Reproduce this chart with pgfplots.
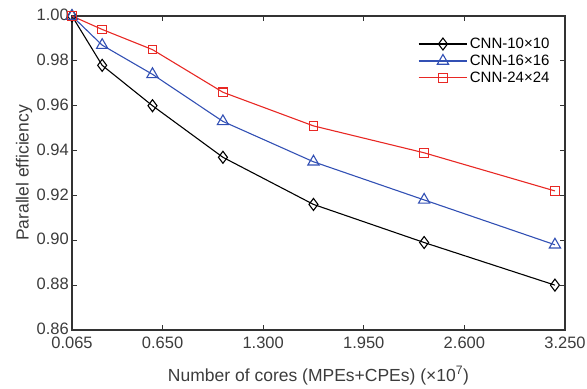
\documentclass[border=0pt]{standalone}
\usepackage{pgfplots}
\pgfplotsset{compat=1.18}
\usepackage{fontspec}
\setmainfont{Liberation Sans}
\definecolor{cblue}{RGB}{50,80,180}
\definecolor{cred}{RGB}{232,40,36}
\definecolor{txt}{RGB}{60,60,60}
\begin{document}
\begin{tikzpicture}
\begin{axis}[
  scale only axis, width=493bp, height=314bp,
  xmin=0.065, xmax=3.25, ymin=0.86, ymax=1.0,
  xtick={0.065,0.65,1.3,1.95,2.6,3.25},
  xticklabels={0.065,0.650,1.300,1.950,2.600,3.250},
  ytick={0.86,0.88,0.90,0.92,0.94,0.96,0.98,1.00},
  yticklabel style={/pgf/number format/fixed,/pgf/number format/fixed zerofill,/pgf/number format/precision=2, inner sep=1bp, xshift=-2bp, yshift=1bp},
  /pgf/number format/assume math mode=true,
  tick label style={font=\fontsize{16.5bp}{19bp}\selectfont, text=txt},
  xticklabel style={yshift=-6bp, inner sep=1bp},
  label style={font=\fontsize{17.5bp}{20bp}\selectfont, text=txt},
  axis line style={draw=black!80, line width=1.1pt},
  major tick style={draw=black!80, line width=0.9pt},
  major tick length=5bp,
  xlabel={Number of cores (MPEs+CPEs) (×10\textsuperscript{7})},
  ylabel={Parallel efficiency},
  xlabel style={yshift=-13bp},
  ylabel style={yshift=0bp},
  clip=false,
  legend style={draw=none, fill=none, at={(0.975,0.94)}, anchor=north east,
    font=\fontsize{15bp}{17bp}\selectfont, row sep=1bp, inner sep=1bp},
  legend cell align=left,
  legend image code/.code={\draw[mark repeat=2,mark phase=2] plot coordinates {(0cm,0cm) (0.86cm,0cm) (1.72cm,0cm)};},
]
\addplot[black, line width=1.1pt, mark=diamond, mark size=6bp, mark options={fill=white, line width=1.1pt}] coordinates {
(0.065,1.000) (0.26,0.978) (0.585,0.960) (1.04,0.937) (1.625,0.916) (2.34,0.899) (3.185,0.880)};
\addlegendentry{CNN-10×10}
\addplot[cblue, line width=1.1pt, mark=triangle, mark size=6.5bp, mark options={fill=white, line width=1.1pt}] coordinates {
(0.065,1.000) (0.26,0.987) (0.585,0.974) (1.04,0.953) (1.625,0.935) (2.34,0.918) (3.185,0.898)};
\addlegendentry{CNN-16×16}
\addplot[cred, line width=1.1pt, mark=square, mark size=4.3bp, mark options={fill=white, line width=1.1pt}] coordinates {
(0.065,1.000) (0.26,0.994) (0.585,0.985) (1.04,0.966) (1.625,0.951) (2.34,0.939) (3.185,0.922)};
\addlegendentry{CNN-24×24}
\end{axis}
\path ([shift={(-72bp,-59bp)}]current axis.south west) rectangle ([shift={(22bp,16bp)}]current axis.north east);
\end{tikzpicture}
\end{document}
